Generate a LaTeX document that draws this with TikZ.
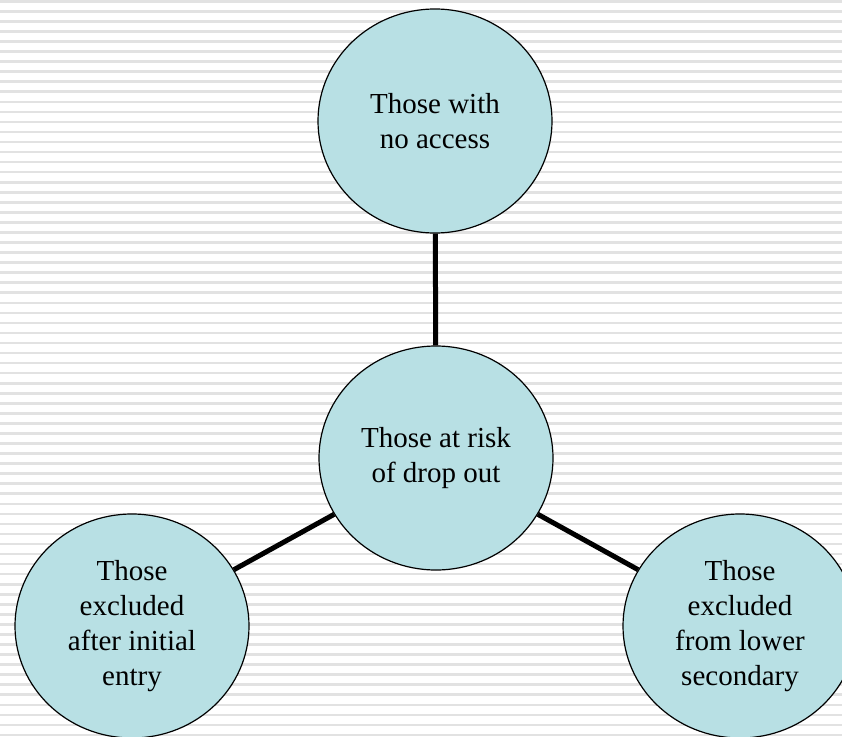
\documentclass[tikz,border=0pt]{standalone}
\usepackage{fontspec}
\setmainfont{Liberation Serif}
\usepackage{xcolor}
\usetikzlibrary{positioning,shapes.geometric}
\definecolor{bubblefill}{RGB}{184,224,228}
\definecolor{stripegray}{RGB}{226,226,226}

\begin{document}
\begin{tikzpicture}[x=1pt,y=-1pt,
  bubble/.style={ellipse,draw=black,line width=1.2pt,fill=bubblefill,minimum width=234pt,
    minimum height=224pt,inner sep=0pt,align=center,font=\fontsize{29}{35}\selectfont},
  spoke/.style={line width=5pt,black}]
  % striped background
  \fill[white] (0,0) rectangle (842,736);
  \foreach \k in {0,...,73} \fill[stripegray] (0,{\k*10.05}) rectangle (842,{\k*10.05+2.6});
  \useasboundingbox (0,0) rectangle (842,736);
  \node[bubble] (hub) at (436,458) {Those at risk\\of drop out};
  \node[bubble] (noacc) at (435,121) {Those with\\no access};
  \node[bubble] (afterent) at (132,626) {Those\\excluded\\after initial\\entry};
  \node[bubble] (lowsec) at (740,626) {Those\\excluded\\from lower\\secondary};
  \draw[spoke] (hub) -- (noacc);
  \draw[spoke] (hub) -- (afterent);
  \draw[spoke] (hub) -- (lowsec);
\end{tikzpicture}
\end{document}
